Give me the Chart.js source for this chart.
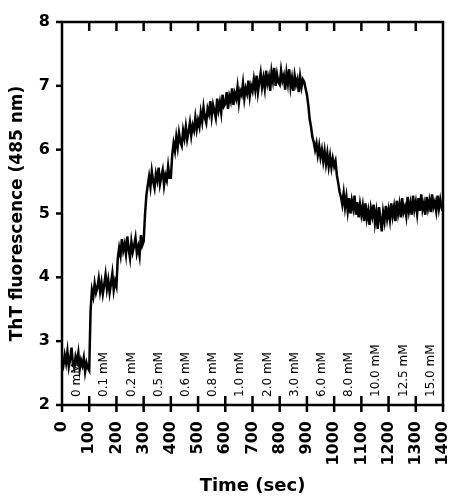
<!DOCTYPE html>
<html>
<head>
<meta charset="utf-8">
<script src="https://cdn.jsdelivr.net/npm/chart.js@4/dist/chart.umd.min.js"></script>
<style>
  html, body { margin: 0; padding: 0; background: #fff; }
  canvas { display: block; }
</style>
</head>
<body>
<canvas id="chart" width="450" height="497"></canvas>
<script>
// Times (s) at which each concentration was added, and the concentration reached
const additionTimes = [0, 100, 200, 300, 400, 500, 600, 700, 800, 900, 1000, 1100, 1200, 1300];
const concentrations = ['0 mM', '0.1 mM', '0.2 mM', '0.5 mM', '0.6 mM', '0.8 mM', '1.0 mM',
                        '2.0 mM', '3.0 mM', '6.0 mM', '8.0 mM', '10.0 mM', '12.5 mM', '15.0 mM'];

// Seconds between fluorescence readings
const sampleStep = 5;

// ThT fluorescence readings, one array per 100 s interval
const reads0000 = [2.70, 2.62, 2.78, 2.66, 2.84, 2.60, 2.72, 2.90, 2.64, 2.58, 2.76, 2.68, 2.82, 2.56, 2.70, 2.62, 2.74, 2.52, 2.66, 2.58];
const reads0100 = [2.54, 3.48, 3.80, 3.70, 3.90, 3.76, 3.84, 3.98, 3.78, 3.92, 3.74, 3.88, 4.04, 3.82, 3.96, 3.76, 3.90, 4.06, 3.80, 3.94];
const reads0200 = [3.86, 4.30, 4.46, 4.34, 4.60, 4.42, 4.52, 4.36, 4.64, 4.44, 4.30, 4.56, 4.40, 4.50, 4.62, 4.38, 4.48, 4.34, 4.66, 4.50];
const reads0300 = [4.56, 4.98, 5.28, 5.44, 5.58, 5.42, 5.66, 5.50, 5.40, 5.62, 5.52, 5.72, 5.46, 5.58, 5.68, 5.44, 5.60, 5.52, 5.74, 5.56];
const reads0400 = [5.56, 5.92, 6.10, 5.98, 6.20, 6.04, 6.26, 6.12, 6.06, 6.30, 6.18, 6.36, 6.16, 6.28, 6.42, 6.22, 6.38, 6.30, 6.50, 6.32];
const reads0500 = [6.46, 6.36, 6.58, 6.44, 6.66, 6.50, 6.42, 6.64, 6.56, 6.76, 6.52, 6.70, 6.60, 6.50, 6.80, 6.62, 6.74, 6.58, 6.86, 6.68];
const reads0600 = [6.72, 6.90, 6.64, 6.84, 6.76, 6.96, 6.70, 6.88, 6.80, 6.98, 6.74, 6.92, 6.86, 7.04, 6.80, 6.96, 6.88, 7.08, 6.84, 7.00];
const reads0700 = [6.92, 7.10, 6.94, 7.16, 6.90, 7.06, 7.20, 6.98, 7.12, 6.96, 7.24, 7.04, 7.14, 6.92, 7.22, 7.08, 7.28, 7.00, 7.18, 7.06];
const reads0800 = [7.02, 7.24, 7.08, 7.16, 6.94, 7.20, 7.04, 7.26, 6.98, 7.12, 6.92, 7.16, 7.02, 7.10, 6.90, 7.14, 6.98, 7.10, 7.06, 6.96];
const reads0900 = [6.86, 6.70, 6.48, 6.36, 6.20, 6.12, 6.00, 6.10, 5.92, 6.06, 5.88, 6.00, 5.82, 5.98, 5.78, 5.94, 5.74, 5.90, 5.72, 5.86];
const reads1000 = [5.74, 5.82, 5.60, 5.48, 5.34, 5.26, 5.14, 5.32, 5.10, 5.26, 5.04, 5.24, 5.00, 5.20, 5.08, 5.28, 4.98, 5.18, 4.94, 5.14];
const reads1100 = [4.98, 5.12, 4.88, 5.16, 4.92, 5.04, 4.82, 5.08, 4.96, 5.14, 4.86, 5.02, 4.76, 5.10, 4.92, 4.72, 5.02, 4.88, 5.12, 4.92];
const reads1200 = [5.06, 4.90, 5.16, 4.96, 5.10, 4.88, 5.20, 5.00, 5.14, 4.94, 5.24, 5.02, 5.10, 4.96, 5.26, 5.04, 5.16, 4.98, 5.28, 5.06];
const reads1300 = [5.18, 5.00, 5.24, 5.04, 5.30, 5.06, 5.16, 4.98, 5.26, 5.08, 5.20, 5.02, 5.30, 5.10, 5.18, 5.04, 5.28, 5.08, 5.22, 5.10, 5.16];

const fluorescence = [].concat(reads0000, reads0100, reads0200, reads0300, reads0400, reads0500, reads0600,
                               reads0700, reads0800, reads0900, reads1000, reads1100, reads1200, reads1300);
const tracePoints = fluorescence.map((v, i) => ({ x: i * sampleStep, y: v }));

const FONT = 'DejaVu Sans';

// Boxed frame with tick marks, and concentration labels along the bottom
const framePlugin = {
  id: 'frame',
  beforeDatasetsDraw(chart) {
    const { ctx } = chart;
    const xs = chart.scales.x, ys = chart.scales.y;
    ctx.save();
    ctx.fillStyle = '#000';
    ctx.font = '12px "' + FONT + '"';
    ctx.textAlign = 'left';
    ctx.textBaseline = 'middle';
    additionTimes.forEach((t, i) => {
      const px = xs.getPixelForValue(t) + 15;
      ctx.save();
      ctx.translate(px, ys.bottom - 8);
      ctx.rotate(-Math.PI / 2);
      ctx.fillText(concentrations[i], 0, 0);
      ctx.restore();
    });
    ctx.restore();
  },
  afterDatasetsDraw(chart) {
    const { ctx, chartArea } = chart;
    const { left, right, top, bottom } = chartArea;
    const xs = chart.scales.x, ys = chart.scales.y;
    const line = (x1, y1, x2, y2) => { ctx.beginPath(); ctx.moveTo(x1, y1); ctx.lineTo(x2, y2); ctx.stroke(); };
    ctx.save();
    ctx.strokeStyle = '#000';
    ctx.lineWidth = 2.5;
    ctx.lineCap = 'butt';
    ctx.lineJoin = 'miter';
    ctx.strokeRect(left, top, right - left, bottom - top);
    ys.ticks.forEach(tk => {
      const py = ys.getPixelForValue(tk.value);
      line(left - 6, py, left, py);
    });
    xs.ticks.forEach(tk => {
      const px = xs.getPixelForValue(tk.value);
      const edge = tk.value === xs.min || tk.value === xs.max;
      line(px, edge ? bottom : bottom - 9, px, bottom + 7);
      if (!edge) line(px, top, px, top + 9);
    });
    ctx.restore();
  }
};

new Chart(document.getElementById('chart'), {
  type: 'line',
  data: {
    datasets: [{
      data: tracePoints,
      borderColor: '#000',
      borderWidth: 2.5,
      pointRadius: 0,
      tension: 0,
      fill: false
    }]
  },
  options: {
    responsive: false,
    animation: false,
    devicePixelRatio: 1,
    layout: { padding: { top: 22, right: 7, left: 0, bottom: 0 } },
    plugins: { legend: { display: false }, tooltip: { enabled: false } },
    scales: {
      x: {
        type: 'linear',
        min: 0,
        max: 1400,
        afterFit(s) { s.height = 92; s.paddingLeft = 0; s.paddingRight = 0; },
        grid: { display: false, drawTicks: false },
        border: { display: false },
        ticks: {
          stepSize: 100,
          autoSkip: false,
          minRotation: 90,
          maxRotation: 90,
          padding: 16,
          color: '#000',
          font: { family: FONT, weight: 'bold', size: 16 },
          callback: v => String(v)
        },
        title: {
          display: true,
          text: 'Time (sec)',
          color: '#000',
          font: { family: FONT, weight: 'bold', size: 18 },
          padding: { top: 0, bottom: 0 }
        }
      },
      y: {
        min: 2,
        max: 8,
        afterFit(s) { s.width = 62; },
        grid: { display: false, drawTicks: false },
        border: { display: false },
        ticks: {
          stepSize: 1,
          padding: 12,
          color: '#000',
          font: { family: FONT, weight: 'bold', size: 16 }
        },
        title: {
          display: true,
          text: 'ThT fluorescence (485 nm)',
          color: '#000',
          font: { family: FONT, weight: 'bold', size: 17 },
          padding: { top: 7, bottom: 0 }
        }
      }
    }
  },
  plugins: [framePlugin]
});
</script>
</body>
</html>
